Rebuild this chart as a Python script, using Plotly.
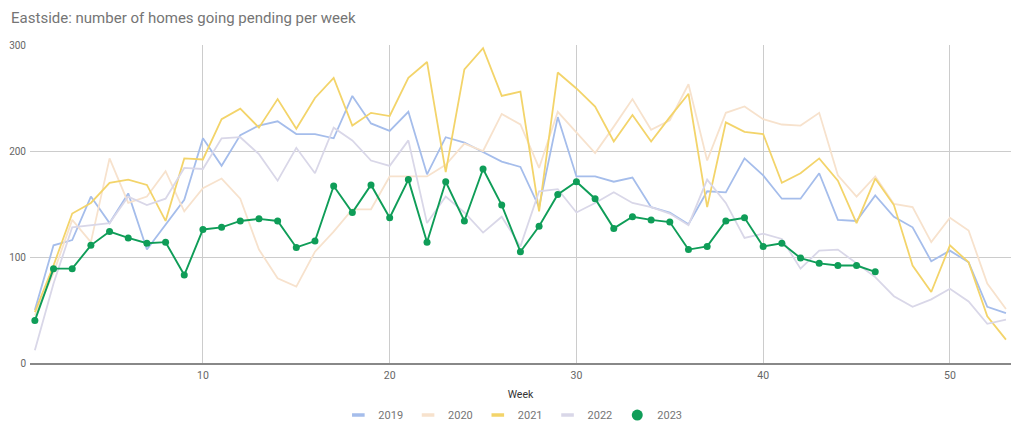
import plotly.graph_objects as go

weeks = list(range(1, 54))

y2019 = [50, 111, 116, 157, 132, 160, 107, 130, 154, 212, 186, 215, 224, 228, 216, 216, 212, 252, 226, 219,
         237, 178, 213, 208, 199, 190, 185, 147, 232, 176, 176, 171, 175, 147, 142, 131, 162, 161, 193, 177,
         155, 155, 179, 135, 134, 158, 138, 128, 96, 106, 95, 53, 47]
y2020 = [45, 85, 135, 114, 193, 151, 157, 181, 143, 165, 174, 155, 107, 80, 72, 105, 124, 145, 145, 176,
         176, 176, 187, 207, 200, 235, 225, 184, 237, 217, 198, 223, 249, 220, 229, 263, 191, 236, 242, 230,
         225, 224, 236, 177, 157, 176, 150, 147, 114, 137, 125, 75, 51]
y2021 = [48, 92, 141, 151, 170, 173, 168, 134, 193, 192, 230, 240, 222, 249, 221, 250, 269, 224, 236, 233,
         269, 284, 180, 277, 297, 252, 256, 143, 274, 259, 242, 209, 234, 209, 232, 254, 147, 227, 218, 216,
         170, 179, 193, 172, 132, 174, 149, 92, 67, 111, 95, 44, 22]
y2022 = [12, 75, 128, 130, 132, 157, 149, 155, 184, 183, 212, 213, 197, 172, 203, 179, 222, 210, 191, 186,
         210, 132, 157, 142, 123, 138, 110, 162, 164, 142, 151, 161, 151, 147, 141, 130, 173, 151, 118, 122,
         117, 89, 106, 107, 94, 81, 63, 53, 60, 70, 58, 37, 41]
y2023 = [40, 89, 89, 111, 124, 118, 113, 114, 83, 126, 128, 134, 136, 134, 109, 115, 167, 142, 168, 137,
         173, 114, 171, 134, 183, 149, 105, 129, 159, 171, 155, 127, 138, 135, 133, 107, 110, 134, 137, 110,
         113, 99, 94, 92, 92, 86]

series = [
    ("2019", y2019, "#a5bdeb"),
    ("2020", y2020, "#f7e2cd"),
    ("2021", y2021, "#f3d46a"),
    ("2022", y2022, "#d9d7e8"),
]
green = "#0f9d58"

fig = go.Figure()
for name, ys, col in series:
    fig.add_trace(go.Scatter(x=weeks[:len(ys)], y=ys, name=name, mode="lines",
                             line=dict(color=col, width=1.8), showlegend=False))
fig.add_trace(go.Scatter(x=weeks[:len(y2023)], y=y2023, name="2023", mode="lines+markers",
                         line=dict(color=green, width=1.9),
                         marker=dict(color=green, size=7), showlegend=False))

# legend-only entries (short line swatches, dot for 2023)
for name, ys, col in series:
    fig.add_trace(go.Scatter(x=[None], y=[None], name=name, mode="markers",
                             marker=dict(symbol="line-ew-open", size=9, color=col,
                                         line=dict(color=col, width=3.5))))
fig.add_trace(go.Scatter(x=[None], y=[None], name="2023", mode="markers",
                         marker=dict(color=green, size=11)))

fig.update_layout(
    width=1024, height=434,
    margin=dict(l=22, r=21, t=37, b=79),
    paper_bgcolor="white", plot_bgcolor="white",
    font=dict(family="Roboto, Arial, sans-serif", color="#666666", size=11),
    title=dict(text="Eastside: number of homes going pending per week",
               x=0.003, xanchor="left", y=0.977, yanchor="middle",
               font=dict(size=15, color="#757575")),
    showlegend=True,
    legend=dict(orientation="h", xref="container", yref="container",
                x=0.493, xanchor="center", y=0.062, yanchor="middle",
                font=dict(size=11, color="#757575"), itemwidth=30, tracegroupgap=0),
    xaxis=dict(range=[0.74, 53.27], tickvals=[10, 20, 30, 40, 50], showgrid=True,
               gridcolor="#cccccc", gridwidth=1, zeroline=False, showline=True,
               linecolor="#888888", linewidth=1.5, ticks="", automargin=False,
               title=dict(text="Week", font=dict(size=10.5, color="#333333"), standoff=18),
               tickfont=dict(size=10.5, color="#666666"), ticklabelstandoff=2),
    yaxis=dict(range=[0, 300], tickvals=[0, 100, 200, 300], showgrid=True,
               gridcolor="#cccccc", gridwidth=1, zeroline=False, ticks="", automargin=False,
               tickfont=dict(size=10, color="#666666"), ticklabelstandoff=3),
)

fig.write_html("out.html")
